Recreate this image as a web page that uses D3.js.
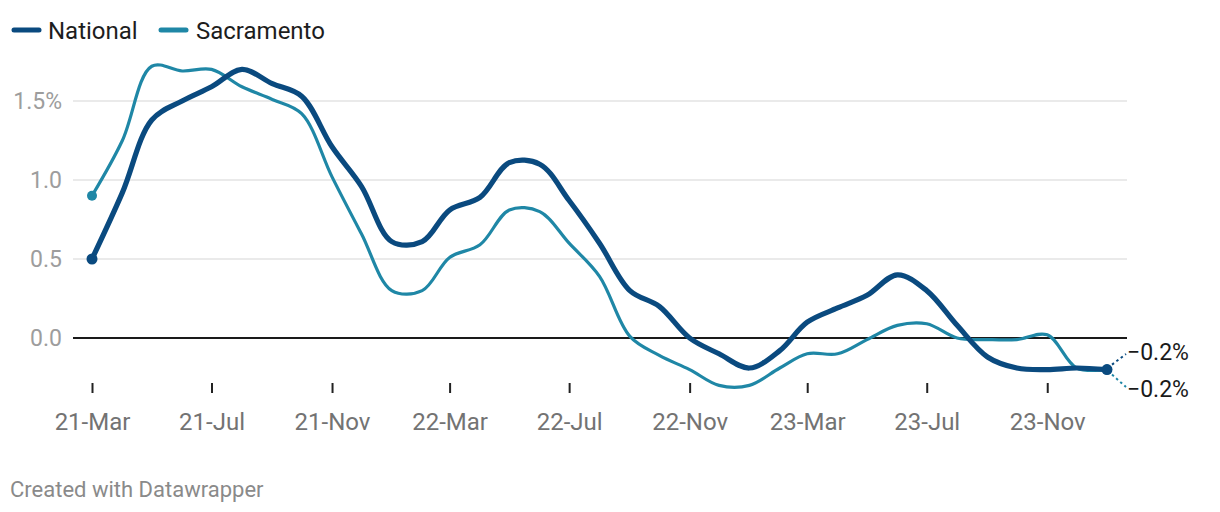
<!DOCTYPE html>
<html>
<head>
<meta charset="utf-8">
<script src="https://cdn.jsdelivr.net/npm/d3@7"></script>
<style>
  html, body { margin: 0; padding: 0; background: #fff; }
  svg { display: block; font-family: Roboto, "Noto Sans", sans-serif; }
</style>
</head>
<body>
<svg id="chart" width="1220" height="512"></svg>
<script>
// ---- data ----
const months = d3.range(35).map(i => d3.timeMonth.offset(new Date(2021, 2, 1), i)); // 21-Mar .. 24-Jan
const national = [0.50, 0.92, 1.38, 1.50, 1.59, 1.70, 1.61, 1.53, 1.21, 0.96, 0.61, 0.61, 0.81, 0.89, 1.11, 1.10, 0.87, 0.60, 0.30, 0.20, 0.00, -0.10, -0.19, -0.08, 0.10, 0.19, 0.27, 0.40, 0.30, 0.08, -0.12, -0.19, -0.20, -0.19, -0.20];
const sacramento = [0.90, 1.25, 1.72, 1.69, 1.70, 1.59, 1.51, 1.42, 1.02, 0.66, 0.30, 0.30, 0.51, 0.59, 0.81, 0.80, 0.60, 0.39, 0.01, -0.11, -0.20, -0.30, -0.30, -0.19, -0.10, -0.10, -0.01, 0.08, 0.09, 0.00, -0.01, -0.01, 0.02, -0.19, -0.20];
const yTicks = [0, 0.5, 1.0, 1.5];
const yTickLabels = ["0.0", "0.5", "1.0", "1.5%"];
const xTickDates = [new Date(2021,2,1), new Date(2021,6,1), new Date(2021,10,1), new Date(2022,2,1), new Date(2022,6,1), new Date(2022,10,1), new Date(2023,2,1), new Date(2023,6,1), new Date(2023,10,1)];
const seriesNames = ["National", "Sacramento"];
const seriesColors = ["#0a4a7f", "#1f87a6"];
const endLabels = ["\u22120.2%", "\u22120.2%"];

// ---- layout ----
const svg = d3.select("#chart");
const x = d3.scaleTime().domain([months[0], months[months.length - 1]]).range([92, 1107]);
const y = d3.scaleLinear().domain([0, 1.5]).range([338, 101]);
const gridX0 = 73, gridX1 = 1127;

// gridlines
svg.append("g").selectAll("line").data(yTicks.filter(d => d !== 0)).join("line")
  .attr("x1", gridX0).attr("x2", gridX1)
  .attr("y1", d => y(d)).attr("y2", d => y(d))
  .attr("stroke", "#e3e3e3").attr("stroke-width", 1.5);

// y labels
svg.append("g").selectAll("text").data(yTicks).join("text")
  .attr("x", 62).attr("y", d => y(d)).attr("dy", "0.36em")
  .attr("text-anchor", "end").attr("font-size", 23).attr("fill", "#9d9d9d")
  .text((d, i) => yTickLabels[i]);

// zero line
svg.append("line").attr("x1", gridX0).attr("x2", gridX1)
  .attr("y1", y(0)).attr("y2", y(0)).attr("stroke", "#1a1a1a").attr("stroke-width", 2);

// x axis
const xAxis = d3.axisBottom(x).tickValues(xTickDates).tickFormat(d3.timeFormat("%y-%b")).tickSize(10).tickPadding(20);
const gx = svg.append("g").attr("transform", "translate(0,383)").call(xAxis);
gx.select(".domain").remove();
gx.selectAll(".tick line").attr("stroke", "#222").attr("stroke-width", 2);
gx.selectAll(".tick text").attr("font-size", 24).attr("fill", "#737373").attr("font-family", "Roboto, sans-serif");

// lines
const line = d3.line().x((d, i) => x(months[i])).y(d => y(d)).curve(d3.curveCatmullRom.alpha(0.5));
const data = [national, sacramento];
const widths = [5.2, 3.2];
[1, 0].forEach(k => {
  svg.append("path").datum(data[k]).attr("d", line)
    .attr("fill", "none").attr("stroke", seriesColors[k]).attr("stroke-width", widths[k])
    .attr("stroke-linejoin", "round").attr("stroke-linecap", "round");
});

// start & end dots
[1, 0].forEach(k => {
  const n = data[k].length - 1;
  [0, n].forEach(i => {
    svg.append("circle").attr("cx", x(months[i])).attr("cy", y(data[k][i]))
      .attr("r", k === 0 ? 5.5 : 5).attr("fill", seriesColors[k]);
  });
});

// end labels with dotted connectors
const lastIdx = months.length - 1;
const ex = x(months[lastIdx]);
const labelY = [352, 389];
[0, 1].forEach(k => {
  const ey = y(data[k][lastIdx]);
  const dir = k === 0 ? -1 : 1;
  svg.append("line").attr("x1", ex + 5).attr("y1", ey + dir * 5)
    .attr("x2", ex + 19).attr("y2", labelY[k] - dir * 2)
    .attr("stroke", seriesColors[k]).attr("stroke-width", 2).attr("stroke-dasharray", "2.5,3");
  svg.append("text").attr("x", 1127).attr("y", labelY[k]).attr("dy", "0.36em")
    .attr("font-size", 23).attr("fill", "#1a1a1a").text(endLabels[k]);
});

// legend
const legendPos = [{lx: 12, tx: 48}, {lx: 159, tx: 196}];
seriesNames.forEach((name, k) => {
  svg.append("line").attr("x1", legendPos[k].lx + 2).attr("x2", legendPos[k].lx + 27)
    .attr("y1", 30).attr("y2", 30).attr("stroke", seriesColors[k]).attr("stroke-width", 5)
    .attr("stroke-linecap", "round");
  svg.append("text").attr("x", legendPos[k].tx).attr("y", 30).attr("dy", "0.36em")
    .attr("font-size", 24).attr("fill", "#1d1d1d").text(name);
});

// footer
svg.append("text").attr("x", 10).attr("y", 489).attr("dy", "0.36em")
  .attr("font-size", 22).attr("fill", "#8a8a8a").text("Created with Datawrapper");
</script>
</body>
</html>
